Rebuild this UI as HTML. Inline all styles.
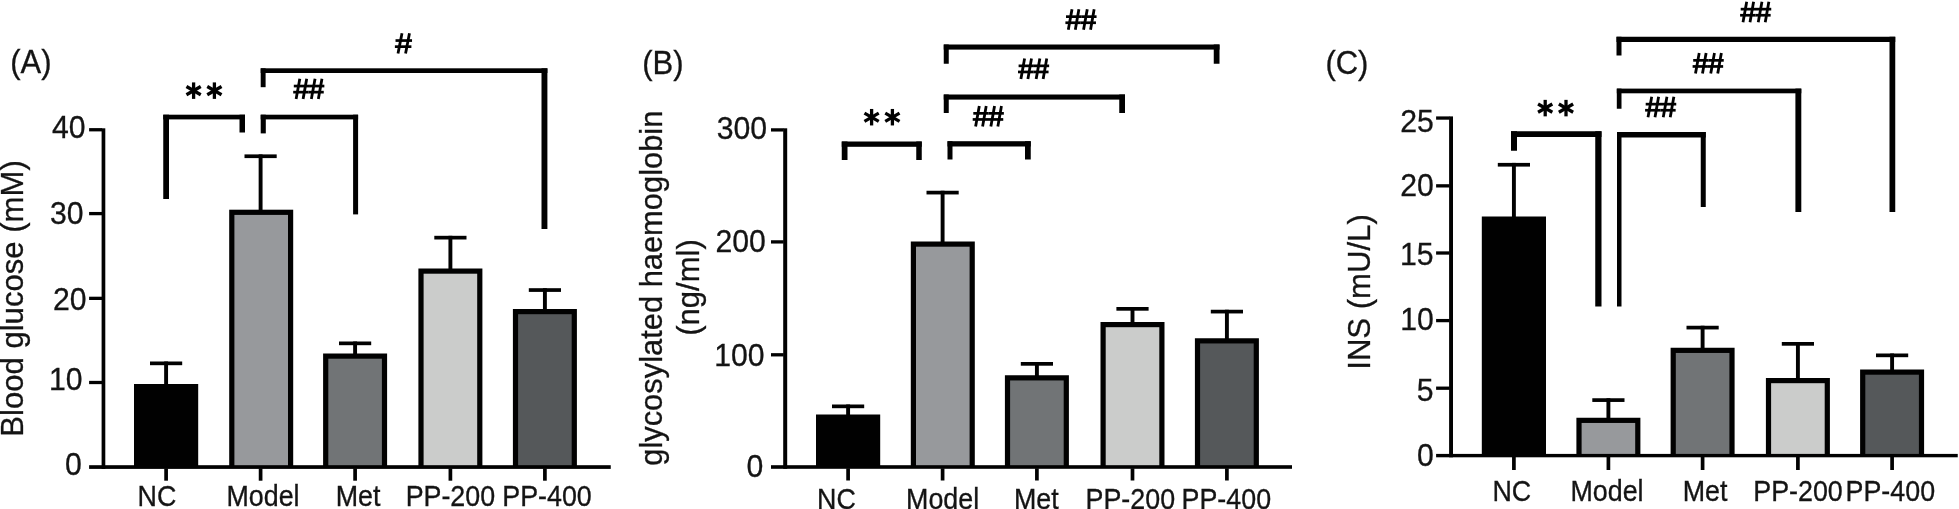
<!DOCTYPE html>
<html><head><meta charset="utf-8"><title>Figure</title>
<style>
html,body{margin:0;padding:0;background:#fff;}
body{width:1959px;height:509px;overflow:hidden;font-family:"Liberation Sans",sans-serif;}
svg{display:block;}
svg text{font-family:"Liberation Sans",sans-serif;fill:#141414;stroke:#141414;stroke-width:0.3px;}
</style></head>
<body>
<svg width="1959" height="509" viewBox="0 0 1959 509">
<rect x="0" y="0" width="1959" height="509" fill="#ffffff"/>
<g opacity="0.999">
<rect x="134.00" y="384.00" width="64.20" height="83.00" fill="#000"/>
<rect x="229.20" y="209.70" width="64.00" height="257.30" fill="#000"/>
<rect x="234.40" y="214.90" width="53.60" height="252.10" fill="#97999c"/>
<rect x="323.10" y="353.50" width="64.00" height="113.50" fill="#000"/>
<rect x="328.30" y="358.70" width="53.60" height="108.30" fill="#717476"/>
<rect x="418.40" y="268.50" width="64.00" height="198.50" fill="#000"/>
<rect x="423.60" y="273.70" width="53.60" height="193.30" fill="#cbcccb"/>
<rect x="512.90" y="309.00" width="64.00" height="158.00" fill="#000"/>
<rect x="518.10" y="314.20" width="53.60" height="152.80" fill="#55585a"/>
<rect x="150.00" y="361.50" width="32.20" height="3.70" fill="#000"/>
<rect x="164.15" y="361.50" width="3.90" height="23.50" fill="#000"/>
<rect x="244.50" y="154.40" width="32.20" height="3.70" fill="#000"/>
<rect x="258.65" y="154.40" width="3.90" height="56.30" fill="#000"/>
<rect x="339.00" y="341.50" width="32.20" height="3.70" fill="#000"/>
<rect x="353.15" y="341.50" width="3.90" height="13.00" fill="#000"/>
<rect x="434.30" y="235.80" width="32.20" height="3.70" fill="#000"/>
<rect x="448.45" y="235.80" width="3.90" height="33.70" fill="#000"/>
<rect x="528.80" y="288.20" width="32.20" height="3.70" fill="#000"/>
<rect x="542.95" y="288.20" width="3.90" height="21.80" fill="#000"/>
<rect x="101.60" y="128.30" width="3.70" height="340.60" fill="#000"/>
<rect x="89.10" y="465.20" width="521.65" height="3.70" fill="#000"/>
<rect x="89.10" y="380.85" width="13.00" height="3.30" fill="#000"/>
<rect x="89.10" y="296.70" width="13.00" height="3.30" fill="#000"/>
<rect x="89.10" y="211.95" width="13.00" height="3.30" fill="#000"/>
<rect x="89.10" y="128.10" width="13.00" height="3.30" fill="#000"/>
<text transform="translate(85.60,137.60) scale(1,1.068)" font-size="30.2" text-anchor="end" >40</text>
<text transform="translate(83.60,224.20) scale(1,1.068)" font-size="30.2" text-anchor="end" >30</text>
<text transform="translate(86.50,309.60) scale(1,1.068)" font-size="30.2" text-anchor="end" >20</text>
<text transform="translate(82.60,390.10) scale(1,1.068)" font-size="30.2" text-anchor="end" >10</text>
<text transform="translate(81.90,474.70) scale(1,1.068)" font-size="30.2" text-anchor="end" >0</text>
<rect x="164.25" y="468.40" width="3.70" height="12.30" fill="#000"/>
<rect x="258.75" y="468.40" width="3.70" height="12.30" fill="#000"/>
<rect x="353.25" y="468.40" width="3.70" height="12.30" fill="#000"/>
<rect x="448.55" y="468.40" width="3.70" height="12.30" fill="#000"/>
<rect x="543.05" y="468.40" width="3.70" height="12.30" fill="#000"/>
<text transform="translate(157.00,505.75) scale(1,1.068)" font-size="26.85" text-anchor="middle" >NC</text>
<text transform="translate(263.00,505.75) scale(1,1.068)" font-size="26.85" text-anchor="middle" >Model</text>
<text transform="translate(358.00,505.75) scale(1,1.068)" font-size="26.85" text-anchor="middle" >Met</text>
<text transform="translate(450.40,505.75) scale(1,1.068)" font-size="26.85" text-anchor="middle" >PP-200</text>
<text transform="translate(547.00,505.75) scale(1,1.068)" font-size="26.85" text-anchor="middle" >PP-400</text>
<rect x="163.25" y="114.70" width="81.75" height="4.70" fill="#000"/>
<rect x="163.25" y="114.70" width="5.75" height="84.30" fill="#000"/>
<rect x="239.50" y="114.70" width="5.50" height="17.80" fill="#000"/>
<rect x="260.70" y="114.70" width="97.40" height="4.70" fill="#000"/>
<rect x="260.70" y="114.70" width="5.10" height="18.70" fill="#000"/>
<rect x="353.10" y="114.70" width="5.00" height="99.70" fill="#000"/>
<rect x="260.70" y="68.30" width="286.70" height="4.70" fill="#000"/>
<rect x="260.70" y="68.30" width="4.90" height="18.90" fill="#000"/>
<rect x="541.50" y="68.30" width="5.90" height="160.70" fill="#000"/>
<line x1="193.60" y1="82.40" x2="193.60" y2="98.90" stroke="#000" stroke-width="3.3"/>
<line x1="186.46" y1="86.53" x2="200.74" y2="94.78" stroke="#000" stroke-width="3.3"/>
<line x1="200.74" y1="86.53" x2="186.46" y2="94.78" stroke="#000" stroke-width="3.3"/>
<line x1="214.40" y1="82.40" x2="214.40" y2="98.90" stroke="#000" stroke-width="3.3"/>
<line x1="207.26" y1="86.53" x2="221.54" y2="94.78" stroke="#000" stroke-width="3.3"/>
<line x1="221.54" y1="86.53" x2="207.26" y2="94.78" stroke="#000" stroke-width="3.3"/>
<rect x="293.80" y="84.70" width="15.30" height="2.70" fill="#000"/>
<rect x="293.20" y="90.80" width="15.30" height="2.70" fill="#000"/>
<line x1="296.10" y1="99.10" x2="299.80" y2="78.70" stroke="#000" stroke-width="2.8"/>
<line x1="303.10" y1="99.10" x2="306.70" y2="78.70" stroke="#000" stroke-width="2.8"/>
<rect x="309.05" y="84.70" width="15.30" height="2.70" fill="#000"/>
<rect x="308.45" y="90.80" width="15.30" height="2.70" fill="#000"/>
<line x1="311.35" y1="99.10" x2="315.05" y2="78.70" stroke="#000" stroke-width="2.8"/>
<line x1="318.35" y1="99.10" x2="321.95" y2="78.70" stroke="#000" stroke-width="2.8"/>
<rect x="395.52" y="39.20" width="16.52" height="2.70" fill="#000"/>
<rect x="394.88" y="45.30" width="16.52" height="2.70" fill="#000"/>
<line x1="398.01" y1="53.60" x2="402.00" y2="33.20" stroke="#000" stroke-width="2.8"/>
<line x1="405.57" y1="53.60" x2="409.46" y2="33.20" stroke="#000" stroke-width="2.8"/>
<text transform="translate(10.20,73.30) scale(1,1.068)" font-size="31" text-anchor="start" >(A)</text>
<text transform="translate(23.00,298.50) rotate(-90) scale(1,1.02)" font-size="31.1" text-anchor="middle">Blood glucose (mM)</text>
<rect x="816.00" y="414.50" width="64.20" height="52.50" fill="#000"/>
<rect x="910.80" y="241.50" width="64.00" height="225.50" fill="#000"/>
<rect x="916.00" y="246.70" width="53.60" height="220.30" fill="#97999c"/>
<rect x="1004.90" y="375.25" width="64.00" height="91.75" fill="#000"/>
<rect x="1010.10" y="380.45" width="53.60" height="86.55" fill="#717476"/>
<rect x="1100.50" y="322.00" width="64.00" height="145.00" fill="#000"/>
<rect x="1105.70" y="327.20" width="53.60" height="139.80" fill="#cbcccb"/>
<rect x="1194.90" y="338.25" width="64.00" height="128.75" fill="#000"/>
<rect x="1200.10" y="343.45" width="53.60" height="123.55" fill="#55585a"/>
<rect x="832.00" y="404.50" width="32.20" height="3.70" fill="#000"/>
<rect x="846.15" y="404.50" width="3.90" height="11.00" fill="#000"/>
<rect x="926.50" y="190.75" width="32.20" height="3.70" fill="#000"/>
<rect x="940.65" y="190.75" width="3.90" height="51.75" fill="#000"/>
<rect x="1020.80" y="362.00" width="32.20" height="3.70" fill="#000"/>
<rect x="1034.95" y="362.00" width="3.90" height="14.25" fill="#000"/>
<rect x="1116.40" y="307.00" width="32.20" height="3.70" fill="#000"/>
<rect x="1130.55" y="307.00" width="3.90" height="16.00" fill="#000"/>
<rect x="1210.80" y="309.75" width="32.20" height="3.70" fill="#000"/>
<rect x="1224.95" y="309.75" width="3.90" height="29.50" fill="#000"/>
<rect x="783.20" y="128.30" width="4.00" height="340.50" fill="#000"/>
<rect x="771.00" y="465.20" width="521.00" height="3.60" fill="#000"/>
<rect x="771.00" y="353.15" width="12.70" height="3.30" fill="#000"/>
<rect x="771.00" y="240.25" width="12.70" height="3.30" fill="#000"/>
<rect x="771.00" y="128.25" width="12.70" height="3.30" fill="#000"/>
<text transform="translate(767.10,139.20) scale(1,1.068)" font-size="30.2" text-anchor="end" >300</text>
<text transform="translate(765.90,251.60) scale(1,1.068)" font-size="30.2" text-anchor="end" >200</text>
<text transform="translate(764.60,365.60) scale(1,1.068)" font-size="30.2" text-anchor="end" >100</text>
<text transform="translate(763.40,476.60) scale(1,1.068)" font-size="30.2" text-anchor="end" >0</text>
<rect x="846.25" y="468.30" width="3.70" height="12.20" fill="#000"/>
<rect x="940.75" y="468.30" width="3.70" height="12.20" fill="#000"/>
<rect x="1035.05" y="468.30" width="3.70" height="12.20" fill="#000"/>
<rect x="1130.65" y="468.30" width="3.70" height="12.20" fill="#000"/>
<rect x="1225.05" y="468.30" width="3.70" height="12.20" fill="#000"/>
<text transform="translate(836.50,508.90) scale(1,1.068)" font-size="26.85" text-anchor="middle" >NC</text>
<text transform="translate(942.60,508.90) scale(1,1.068)" font-size="26.85" text-anchor="middle" >Model</text>
<text transform="translate(1036.30,508.90) scale(1,1.068)" font-size="26.85" text-anchor="middle" >Met</text>
<text transform="translate(1130.30,508.90) scale(1,1.068)" font-size="26.85" text-anchor="middle" >PP-200</text>
<text transform="translate(1226.30,508.90) scale(1,1.068)" font-size="26.85" text-anchor="middle" >PP-400</text>
<rect x="841.75" y="141.50" width="80.00" height="5.30" fill="#000"/>
<rect x="841.75" y="141.50" width="5.75" height="18.50" fill="#000"/>
<rect x="916.25" y="141.50" width="5.50" height="18.50" fill="#000"/>
<rect x="947.50" y="141.20" width="83.25" height="5.30" fill="#000"/>
<rect x="947.50" y="141.20" width="5.00" height="18.30" fill="#000"/>
<rect x="1025.00" y="141.20" width="5.75" height="18.30" fill="#000"/>
<rect x="943.75" y="94.50" width="181.25" height="5.10" fill="#000"/>
<rect x="943.75" y="94.50" width="5.00" height="18.50" fill="#000"/>
<rect x="1119.25" y="94.50" width="5.75" height="18.50" fill="#000"/>
<rect x="943.75" y="44.50" width="275.75" height="5.10" fill="#000"/>
<rect x="943.75" y="44.50" width="5.00" height="19.25" fill="#000"/>
<rect x="1213.75" y="44.50" width="5.75" height="19.25" fill="#000"/>
<line x1="871.60" y1="108.95" x2="871.60" y2="125.45" stroke="#000" stroke-width="3.3"/>
<line x1="864.46" y1="113.08" x2="878.74" y2="121.33" stroke="#000" stroke-width="3.3"/>
<line x1="878.74" y1="113.08" x2="864.46" y2="121.33" stroke="#000" stroke-width="3.3"/>
<line x1="892.40" y1="108.95" x2="892.40" y2="125.45" stroke="#000" stroke-width="3.3"/>
<line x1="885.26" y1="113.08" x2="899.54" y2="121.33" stroke="#000" stroke-width="3.3"/>
<line x1="899.54" y1="113.08" x2="885.26" y2="121.33" stroke="#000" stroke-width="3.3"/>
<rect x="973.30" y="112.00" width="15.30" height="2.70" fill="#000"/>
<rect x="972.70" y="118.10" width="15.30" height="2.70" fill="#000"/>
<line x1="975.60" y1="126.40" x2="979.30" y2="106.00" stroke="#000" stroke-width="2.8"/>
<line x1="982.60" y1="126.40" x2="986.20" y2="106.00" stroke="#000" stroke-width="2.8"/>
<rect x="988.55" y="112.00" width="15.30" height="2.70" fill="#000"/>
<rect x="987.95" y="118.10" width="15.30" height="2.70" fill="#000"/>
<line x1="990.85" y1="126.40" x2="994.55" y2="106.00" stroke="#000" stroke-width="2.8"/>
<line x1="997.85" y1="126.40" x2="1001.45" y2="106.00" stroke="#000" stroke-width="2.8"/>
<rect x="1018.60" y="64.50" width="15.30" height="2.70" fill="#000"/>
<rect x="1018.00" y="70.60" width="15.30" height="2.70" fill="#000"/>
<line x1="1020.90" y1="78.90" x2="1024.60" y2="58.50" stroke="#000" stroke-width="2.8"/>
<line x1="1027.90" y1="78.90" x2="1031.50" y2="58.50" stroke="#000" stroke-width="2.8"/>
<rect x="1033.85" y="64.50" width="15.30" height="2.70" fill="#000"/>
<rect x="1033.25" y="70.60" width="15.30" height="2.70" fill="#000"/>
<line x1="1036.15" y1="78.90" x2="1039.85" y2="58.50" stroke="#000" stroke-width="2.8"/>
<line x1="1043.15" y1="78.90" x2="1046.75" y2="58.50" stroke="#000" stroke-width="2.8"/>
<rect x="1066.00" y="15.30" width="15.30" height="2.70" fill="#000"/>
<rect x="1065.40" y="21.40" width="15.30" height="2.70" fill="#000"/>
<line x1="1068.30" y1="29.70" x2="1072.00" y2="9.30" stroke="#000" stroke-width="2.8"/>
<line x1="1075.30" y1="29.70" x2="1078.90" y2="9.30" stroke="#000" stroke-width="2.8"/>
<rect x="1081.25" y="15.30" width="15.30" height="2.70" fill="#000"/>
<rect x="1080.65" y="21.40" width="15.30" height="2.70" fill="#000"/>
<line x1="1083.55" y1="29.70" x2="1087.25" y2="9.30" stroke="#000" stroke-width="2.8"/>
<line x1="1090.55" y1="29.70" x2="1094.15" y2="9.30" stroke="#000" stroke-width="2.8"/>
<text transform="translate(642.20,73.50) scale(1,1.068)" font-size="31" text-anchor="start" >(B)</text>
<text transform="translate(662.00,288.20) rotate(-90) scale(1,1.02)" font-size="30.87" text-anchor="middle">glycosylated haemoglobin</text>
<text transform="translate(699.00,287.50) rotate(-90) scale(1,1.02)" font-size="31.1" text-anchor="middle">(ng/ml)</text>
<rect x="1481.80" y="216.50" width="64.20" height="239.00" fill="#000"/>
<rect x="1576.40" y="417.75" width="64.00" height="37.75" fill="#000"/>
<rect x="1581.60" y="422.95" width="53.60" height="32.55" fill="#97999c"/>
<rect x="1670.60" y="347.75" width="64.00" height="107.75" fill="#000"/>
<rect x="1675.80" y="352.95" width="53.60" height="102.55" fill="#717476"/>
<rect x="1765.90" y="378.00" width="64.00" height="77.50" fill="#000"/>
<rect x="1771.10" y="383.20" width="53.60" height="72.30" fill="#cbcccb"/>
<rect x="1860.10" y="369.50" width="64.00" height="86.00" fill="#000"/>
<rect x="1865.30" y="374.70" width="53.60" height="80.80" fill="#55585a"/>
<rect x="1497.80" y="162.90" width="32.20" height="3.70" fill="#000"/>
<rect x="1511.95" y="162.90" width="3.90" height="54.60" fill="#000"/>
<rect x="1592.30" y="398.25" width="32.20" height="3.70" fill="#000"/>
<rect x="1606.45" y="398.25" width="3.90" height="20.50" fill="#000"/>
<rect x="1686.50" y="325.75" width="32.20" height="3.70" fill="#000"/>
<rect x="1700.65" y="325.75" width="3.90" height="23.00" fill="#000"/>
<rect x="1781.80" y="342.00" width="32.20" height="3.70" fill="#000"/>
<rect x="1795.95" y="342.00" width="3.90" height="37.00" fill="#000"/>
<rect x="1876.00" y="353.50" width="32.20" height="3.70" fill="#000"/>
<rect x="1890.15" y="353.50" width="3.90" height="17.00" fill="#000"/>
<rect x="1449.10" y="116.40" width="3.90" height="340.90" fill="#000"/>
<rect x="1436.10" y="453.90" width="521.65" height="3.40" fill="#000"/>
<rect x="1436.10" y="386.55" width="13.50" height="3.30" fill="#000"/>
<rect x="1436.10" y="318.95" width="13.50" height="3.30" fill="#000"/>
<rect x="1436.10" y="251.35" width="13.50" height="3.30" fill="#000"/>
<rect x="1436.10" y="184.20" width="13.50" height="3.30" fill="#000"/>
<rect x="1436.10" y="116.40" width="13.50" height="3.30" fill="#000"/>
<text transform="translate(1433.90,131.70) scale(1,1.068)" font-size="30.2" text-anchor="end" >25</text>
<text transform="translate(1433.90,196.20) scale(1,1.068)" font-size="30.2" text-anchor="end" >20</text>
<text transform="translate(1433.50,264.90) scale(1,1.068)" font-size="30.2" text-anchor="end" >15</text>
<text transform="translate(1433.90,330.10) scale(1,1.068)" font-size="30.2" text-anchor="end" >10</text>
<text transform="translate(1433.60,401.30) scale(1,1.068)" font-size="30.2" text-anchor="end" >5</text>
<text transform="translate(1433.90,465.50) scale(1,1.068)" font-size="30.2" text-anchor="end" >0</text>
<rect x="1512.05" y="456.80" width="3.70" height="13.20" fill="#000"/>
<rect x="1606.55" y="456.80" width="3.70" height="13.20" fill="#000"/>
<rect x="1700.75" y="456.80" width="3.70" height="13.20" fill="#000"/>
<rect x="1796.05" y="456.80" width="3.70" height="13.20" fill="#000"/>
<rect x="1890.25" y="456.80" width="3.70" height="13.20" fill="#000"/>
<text transform="translate(1511.80,500.75) scale(1,1.068)" font-size="26.85" text-anchor="middle" >NC</text>
<text transform="translate(1607.00,500.75) scale(1,1.068)" font-size="26.85" text-anchor="middle" >Model</text>
<text transform="translate(1705.00,500.75) scale(1,1.068)" font-size="26.85" text-anchor="middle" >Met</text>
<text transform="translate(1798.00,500.75) scale(1,1.068)" font-size="26.85" text-anchor="middle" >PP-200</text>
<text transform="translate(1890.30,500.75) scale(1,1.068)" font-size="26.85" text-anchor="middle" >PP-400</text>
<rect x="1511.00" y="131.25" width="90.50" height="5.75" fill="#000"/>
<rect x="1511.00" y="131.25" width="6.00" height="19.50" fill="#000"/>
<rect x="1595.25" y="131.25" width="6.25" height="175.25" fill="#000"/>
<rect x="1617.00" y="132.00" width="88.75" height="5.50" fill="#000"/>
<rect x="1617.00" y="132.00" width="4.50" height="174.50" fill="#000"/>
<rect x="1700.75" y="132.00" width="5.00" height="75.00" fill="#000"/>
<rect x="1616.80" y="88.60" width="184.50" height="4.70" fill="#000"/>
<rect x="1616.80" y="88.60" width="4.70" height="20.15" fill="#000"/>
<rect x="1795.40" y="88.60" width="5.90" height="123.40" fill="#000"/>
<rect x="1616.50" y="36.75" width="278.75" height="5.25" fill="#000"/>
<rect x="1616.50" y="36.75" width="5.00" height="18.75" fill="#000"/>
<rect x="1889.50" y="36.75" width="5.75" height="175.25" fill="#000"/>
<line x1="1545.20" y1="99.85" x2="1545.20" y2="116.35" stroke="#000" stroke-width="3.3"/>
<line x1="1538.06" y1="103.98" x2="1552.34" y2="112.23" stroke="#000" stroke-width="3.3"/>
<line x1="1552.34" y1="103.98" x2="1538.06" y2="112.23" stroke="#000" stroke-width="3.3"/>
<line x1="1566.00" y1="99.85" x2="1566.00" y2="116.35" stroke="#000" stroke-width="3.3"/>
<line x1="1558.86" y1="103.98" x2="1573.14" y2="112.23" stroke="#000" stroke-width="3.3"/>
<line x1="1573.14" y1="103.98" x2="1558.86" y2="112.23" stroke="#000" stroke-width="3.3"/>
<rect x="1645.70" y="102.80" width="15.30" height="2.70" fill="#000"/>
<rect x="1645.10" y="108.90" width="15.30" height="2.70" fill="#000"/>
<line x1="1648.00" y1="117.20" x2="1651.70" y2="96.80" stroke="#000" stroke-width="2.8"/>
<line x1="1655.00" y1="117.20" x2="1658.60" y2="96.80" stroke="#000" stroke-width="2.8"/>
<rect x="1660.95" y="102.80" width="15.30" height="2.70" fill="#000"/>
<rect x="1660.35" y="108.90" width="15.30" height="2.70" fill="#000"/>
<line x1="1663.25" y1="117.20" x2="1666.95" y2="96.80" stroke="#000" stroke-width="2.8"/>
<line x1="1670.25" y1="117.20" x2="1673.85" y2="96.80" stroke="#000" stroke-width="2.8"/>
<rect x="1693.20" y="59.00" width="15.30" height="2.70" fill="#000"/>
<rect x="1692.60" y="65.10" width="15.30" height="2.70" fill="#000"/>
<line x1="1695.50" y1="73.40" x2="1699.20" y2="53.00" stroke="#000" stroke-width="2.8"/>
<line x1="1702.50" y1="73.40" x2="1706.10" y2="53.00" stroke="#000" stroke-width="2.8"/>
<rect x="1708.45" y="59.00" width="15.30" height="2.70" fill="#000"/>
<rect x="1707.85" y="65.10" width="15.30" height="2.70" fill="#000"/>
<line x1="1710.75" y1="73.40" x2="1714.45" y2="53.00" stroke="#000" stroke-width="2.8"/>
<line x1="1717.75" y1="73.40" x2="1721.35" y2="53.00" stroke="#000" stroke-width="2.8"/>
<rect x="1740.70" y="7.80" width="15.30" height="2.70" fill="#000"/>
<rect x="1740.10" y="13.90" width="15.30" height="2.70" fill="#000"/>
<line x1="1743.00" y1="22.20" x2="1746.70" y2="1.80" stroke="#000" stroke-width="2.8"/>
<line x1="1750.00" y1="22.20" x2="1753.60" y2="1.80" stroke="#000" stroke-width="2.8"/>
<rect x="1755.95" y="7.80" width="15.30" height="2.70" fill="#000"/>
<rect x="1755.35" y="13.90" width="15.30" height="2.70" fill="#000"/>
<line x1="1758.25" y1="22.20" x2="1761.95" y2="1.80" stroke="#000" stroke-width="2.8"/>
<line x1="1765.25" y1="22.20" x2="1768.85" y2="1.80" stroke="#000" stroke-width="2.8"/>
<text transform="translate(1325.40,73.80) scale(1,1.068)" font-size="31" text-anchor="start" >(C)</text>
<text transform="translate(1370.00,292.00) rotate(-90) scale(1,1.02)" font-size="31.1" text-anchor="middle">INS (mU/L)</text>
</g>
</svg>
</body></html>
